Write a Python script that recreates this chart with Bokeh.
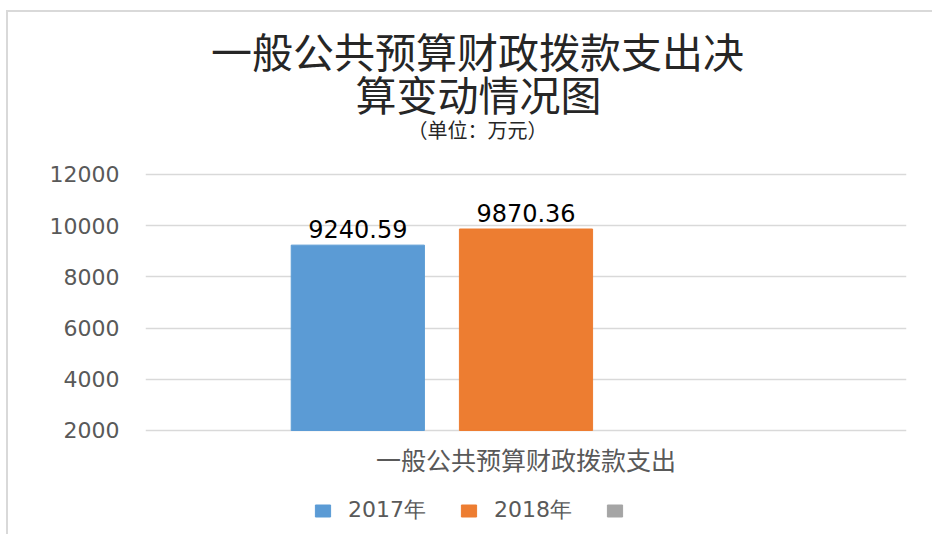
from bokeh.plotting import figure
from bokeh.models import (FactorRange, Range1d, ColumnDataSource, Legend, Label,
                          LegendItem, FixedTicker)
from bokeh.transform import dodge
from bokeh.core.properties import value
from bokeh.embed import file_html
from bokeh.resources import INLINE

# ---- data ----
title_line1 = "一般公共预算财政拨款支出决"
title_line2 = "算变动情况图"
subtitle = "（单位：万元）"
categories = ["一般公共预算财政拨款支出"]
series_names = ["2017年", "2018年", ""]
values_2017 = [9240.59]
values_2018 = [9870.36]
values_3 = [float("nan")]
label_2017 = ["9240.59"]
label_2018 = ["9870.36"]
y_ticks = [2000, 4000, 6000, 8000, 10000, 12000]

colors = ["#5B9BD5", "#ED7D31", "#A5A5A5"]
CJK = "Noto Sans CJK SC"
NUM = "DejaVu Sans"

src = ColumnDataSource(dict(cat=categories, v1=values_2017, v2=values_2018, v3=values_3,
                            l1=label_2017, l2=label_2018, base=[2000]))

# frame spans the full canvas height; axis range extends beyond the tick range
p = figure(width=926, height=524, x_range=FactorRange(*categories, range_padding=0),
           y_range=Range1d(-2141, 18328), output_backend="svg", toolbar_location=None,
           title=None, min_border_left=137, min_border_right=28,
           min_border_bottom=0, min_border_top=0)
p.styles = {"margin-left": "6px", "margin-top": "10px",
            "border-left": "2px solid #D9D9D9", "border-top": "2px solid #D9D9D9"}
p.outline_line_color = None
p.background_fill_color = "white"
p.border_fill_color = "white"

off = 0.221
bw = 0.175
r1 = p.vbar(x=dodge("cat", -off, range=p.x_range), top="v1", bottom=2000, width=bw,
            source=src, color=colors[0])
r2 = p.vbar(x=dodge("cat", 0, range=p.x_range), top="v2", bottom=2000, width=bw,
            source=src, color=colors[1])
r3 = p.vbar(x=dodge("cat", off, range=p.x_range), top="v3", bottom=2000, width=bw,
            source=src, color=colors[2])

p.text(x=dodge("cat", -off, range=p.x_range), y="v1", text="l1", source=src,
       text_align="center", text_baseline="bottom", y_offset=-7,
       text_font=value(NUM), text_font_size="24px", text_color="#000000")
p.text(x=dodge("cat", 0, range=p.x_range), y="v2", text="l2", source=src,
       text_align="center", text_baseline="bottom", y_offset=-7,
       text_font=value(NUM), text_font_size="24px", text_color="#000000")
# category label under the baseline
p.text(x="cat", y="base", text="cat", source=src, text_align="center",
       text_baseline="middle", y_offset=29, text_font=value(CJK),
       text_font_size="25px", text_color="#595959")

# axes
p.yaxis.ticker = FixedTicker(ticks=y_ticks)
p.ygrid.ticker = FixedTicker(ticks=y_ticks)
p.ygrid.grid_line_color = "#D9D9D9"
p.ygrid.grid_line_width = 1.5
p.xgrid.grid_line_color = None
p.xaxis.visible = False
p.yaxis.axis_line_color = None
p.yaxis.major_tick_line_color = None
p.yaxis.minor_tick_line_color = None
p.yaxis.major_label_text_font = NUM
p.yaxis.major_label_text_font_size = "22px"
p.yaxis.major_label_text_color = "#595959"
p.yaxis.major_label_standoff = 20

# titles (screen units, relative to the plot frame)
for txt, x, y, fs in [(title_line1, 332, 487, "41px"),
                      (title_line2, 333, 444, "41px"),
                      (subtitle, 332, 407, "20px")]:
    p.add_layout(Label(x=x, y=y, x_units="screen", y_units="screen", text=txt,
                       text_align="center", text_baseline="middle", text_font=CJK,
                       text_font_size=fs, text_color="#262626"))

legend = Legend(items=[LegendItem(label=series_names[0], renderers=[r1]),
                       LegendItem(label=series_names[1], renderers=[r2]),
                       LegendItem(label=value(" "), renderers=[r3])],
                orientation="horizontal", location=(168, 11),
                border_line_color=None, background_fill_alpha=0,
                glyph_width=19, glyph_height=15, label_standoff=16, spacing=33,
                padding=0, margin=0,
                label_text_font=NUM, label_text_font_size="22px", label_text_color="#595959")
p.add_layout(legend, "center")

open("out.html", "w").write(file_html(p, INLINE))
